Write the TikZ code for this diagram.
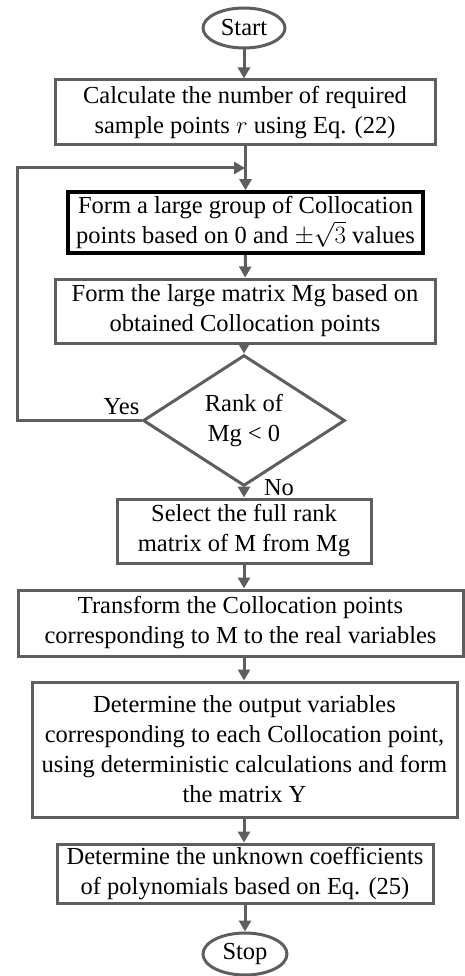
\documentclass[tikz,border=0pt]{standalone}
\usepackage{fontspec}
\setmainfont{Liberation Serif}
\usetikzlibrary{shapes.geometric,arrows.meta}
\definecolor{lc}{HTML}{5E5E5E}
\tikzset{
  every node/.style={font=\fontsize{24.5}{30}\selectfont, align=center, text=black},
  box/.style={draw=lc, line width=3pt, rectangle, inner sep=0pt},
  keybox/.style={draw=black, line width=3.6pt, rectangle, inner sep=0pt},
  term/.style={draw=lc, line width=3pt, ellipse, inner sep=0pt},
  dec/.style={draw=lc, line width=3pt, diamond, inner sep=0pt},
  arr/.style={draw=lc, line width=3pt, -{Triangle[length=11pt,width=12pt]}},
  lbl/.style={inner sep=0pt}
}
\begin{document}
\begin{tikzpicture}[x=1pt,y=-1pt]
\useasboundingbox (0,0) rectangle (465,976);
\node[term, minimum width=82pt, minimum height=40pt] (start) at (244,28) {Start};
\node[box, minimum width=380pt, minimum height=65pt] (b1) at (245,112.5) {Calculate the number of required\\sample points $r$ using Eq. (22)};
\node[keybox, minimum width=355pt, minimum height=61pt] (b2) at (245.5,222.5) {Form a large group of Collocation\\points based on 0 and \smash{$\pm\sqrt{3}$} values};
\node[box, minimum width=380pt, minimum height=64pt] (b3) at (245,311) {Form the large matrix Mg based on\\obtained Collocation points};
\node[dec, minimum width=202pt, minimum height=113pt] (d) at (244,420.5) {Rank of\\Mg {\textless} 0};
\node[box, minimum width=254pt, minimum height=64pt] (b4) at (244,531) {Select the full rank\\matrix of M from Mg};
\node[box, minimum width=445pt, minimum height=66pt] (b5) at (240.5,623) {Transform the Collocation points\\corresponding to M to the real variables};
\node[box, minimum width=425pt, minimum height=135pt] (b6) at (244.5,749.5) {Determine the output variables\\corresponding to each Collocation point,\\using deterministic calculations and form\\the matrix Y};
\node[box, minimum width=376pt, minimum height=59pt] (b7) at (245,873.5) {Determine the unknown coefficients\\of polynomials based on Eq. (25)};
\node[term, minimum width=84pt, minimum height=42pt] (stop) at (245,954) {Stop};
\node[lbl] (yes) at (121.5,407) {Yes};
\node[lbl] (no) at (279,488) {No};
\coordinate (c1) at (17,420.5);
\coordinate (c2) at (17,168);
\coordinate (j) at (245,168);
\draw[arr] (start) -- (start|-b1.north);
\draw[arr] (b1.south-|b2.north) -- (b2.north);
\draw[arr] (b2) -- (b3);
\draw[arr] (b3.south-|d.north) -- (d.north);
\draw[arr] (d) -- (d.south|-b4.north);
\draw[arr] (b4) -- (b4.south|-b5.north);
\draw[arr] (b4.south|-b5.south) -- (b4.south|-b6.north);
\draw[arr] (b4.south|-b6.south) -- (b4.south|-b7.north);
\draw[arr] (b7.south-|stop.north) -- (stop.north);
\draw[arr] (d.west) -- (c1) -- (c2) -- (j);
\end{tikzpicture}
\end{document}
